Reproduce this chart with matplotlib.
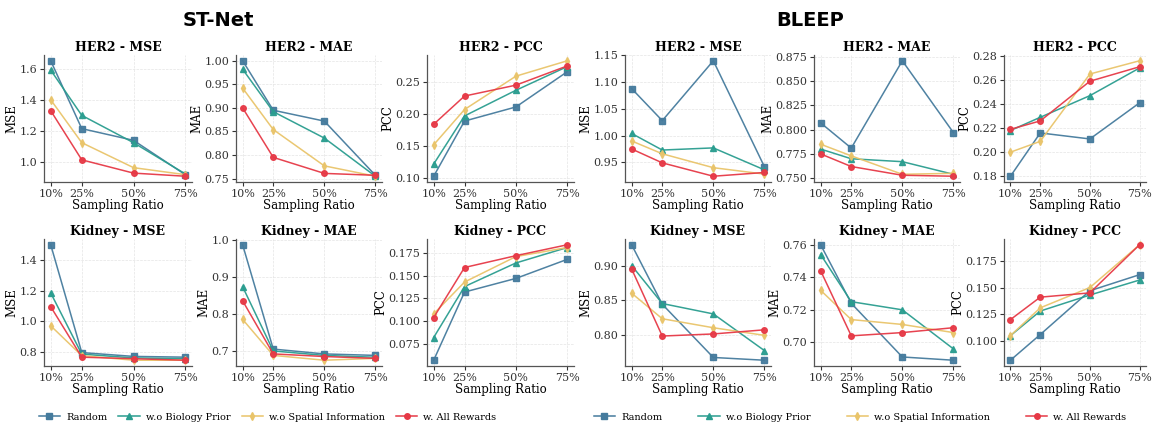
import matplotlib
matplotlib.use("Agg")
import matplotlib.pyplot as plt
from matplotlib.lines import Line2D

ratios = [10, 25, 50, 75]
tick_labels = ["10%", "25%", "50%", "75%"]
methods = ["Random", "w.o Biology Prior", "w.o Spatial Information", "w. All Rewards"]
colors = ["#457b9d", "#2a9d8f", "#e9c46a", "#e63946"]
markers = ["s", "^", "d", "o"]

# ST-Net
stnet_her2_mse = [[1.65, 1.215, 1.14, 0.92], [1.59, 1.30, 1.125, 0.925],
                  [1.40, 1.125, 0.965, 0.92], [1.33, 1.015, 0.93, 0.91]]
stnet_her2_mae = [[1.00, 0.895, 0.872, 0.757], [0.982, 0.892, 0.836, 0.755],
                  [0.942, 0.854, 0.777, 0.755], [0.900, 0.795, 0.761, 0.757]]
stnet_her2_pcc = [[0.103, 0.189, 0.211, 0.266], [0.122, 0.197, 0.237, 0.274],
                  [0.152, 0.207, 0.259, 0.283], [0.184, 0.228, 0.245, 0.275]]
stnet_kid_mse = [[1.50, 0.795, 0.77, 0.765], [1.185, 0.785, 0.76, 0.755],
                 [0.97, 0.775, 0.745, 0.745], [1.095, 0.765, 0.755, 0.745]]
stnet_kid_mae = [[0.986, 0.705, 0.692, 0.688], [0.873, 0.700, 0.688, 0.683],
                 [0.785, 0.688, 0.675, 0.680], [0.835, 0.692, 0.685, 0.680]]
stnet_kid_pcc = [[0.057, 0.132, 0.147, 0.168], [0.082, 0.138, 0.164, 0.181],
                 [0.108, 0.143, 0.171, 0.181], [0.104, 0.159, 0.172, 0.184]]
# BLEEP
bleep_her2_mse = [[1.088, 1.028, 1.140, 0.942], [1.004, 0.973, 0.977, 0.936],
                  [0.990, 0.966, 0.940, 0.928], [0.975, 0.949, 0.924, 0.931]]
bleep_her2_mae = [[0.807, 0.781, 0.871, 0.797], [0.780, 0.770, 0.767, 0.754],
                  [0.785, 0.773, 0.754, 0.755], [0.775, 0.762, 0.753, 0.752]]
bleep_her2_pcc = [[0.180, 0.216, 0.211, 0.241], [0.218, 0.229, 0.247, 0.270],
                  [0.200, 0.209, 0.265, 0.276], [0.219, 0.226, 0.259, 0.271]]
bleep_kid_mse = [[0.930, 0.844, 0.767, 0.763], [0.900, 0.845, 0.830, 0.777],
                 [0.860, 0.823, 0.810, 0.799], [0.895, 0.798, 0.801, 0.807]]
bleep_kid_mae = [[0.760, 0.724, 0.691, 0.689], [0.754, 0.725, 0.720, 0.696],
                 [0.732, 0.714, 0.711, 0.706], [0.744, 0.704, 0.706, 0.709]]
bleep_kid_pcc = [[0.082, 0.106, 0.147, 0.162], [0.105, 0.128, 0.143, 0.157],
                 [0.105, 0.131, 0.150, 0.190], [0.120, 0.141, 0.145, 0.190]]

# y ticks shown in each panel
yt_stnet_her2 = [[1.0, 1.2, 1.4, 1.6], [0.75, 0.80, 0.85, 0.90, 0.95, 1.00], [0.10, 0.15, 0.20, 0.25]]
yt_bleep_her2 = [[0.95, 1.00, 1.05, 1.10, 1.15], [0.750, 0.775, 0.800, 0.825, 0.850, 0.875],
                 [0.18, 0.20, 0.22, 0.24, 0.26, 0.28]]
yt_stnet_kid = [[0.8, 1.0, 1.2, 1.4], [0.7, 0.8, 0.9, 1.0], [0.075, 0.100, 0.125, 0.150, 0.175]]
yt_bleep_kid = [[0.80, 0.85, 0.90], [0.70, 0.72, 0.74, 0.76], [0.100, 0.125, 0.150, 0.175]]
yt_fmt = [["%.1f", "%.2f", "%.2f", "%.2f", "%.3f", "%.2f"],
          ["%.1f", "%.1f", "%.3f", "%.2f", "%.2f", "%.3f"]]

panels = [
    [(stnet_her2_mse, "HER2 - MSE", "MSE"), (stnet_her2_mae, "HER2 - MAE", "MAE"), (stnet_her2_pcc, "HER2 - PCC", "PCC"),
     (bleep_her2_mse, "HER2 - MSE", "MSE"), (bleep_her2_mae, "HER2 - MAE", "MAE"), (bleep_her2_pcc, "HER2 - PCC", "PCC")],
    [(stnet_kid_mse, "Kidney - MSE", "MSE"), (stnet_kid_mae, "Kidney - MAE", "MAE"), (stnet_kid_pcc, "Kidney - PCC", "PCC"),
     (bleep_kid_mse, "Kidney - MSE", "MSE"), (bleep_kid_mae, "Kidney - MAE", "MAE"), (bleep_kid_pcc, "Kidney - PCC", "PCC")],
]
yticks_all = [yt_stnet_her2 + yt_bleep_her2, yt_stnet_kid + yt_bleep_kid]

plt.rcParams['font.family'] = ['DejaVu Serif']
W, H = 1153, 423
fig = plt.figure(figsize=(W / 100, H / 100), dpi=100)

lefts = [44, 236, 427, 625, 814, 1004]
rights = [192, 382, 574, 771, 960, 1146]
rows = [(55, 182), (239, 366)]

for r, (top, bot) in enumerate(rows):
    for c in range(6):
        data, title, ylab = panels[r][c]
        ax = fig.add_axes([lefts[c] / W, 1 - bot / H, (rights[c] - lefts[c]) / W, (bot - top) / H])
        for vals, col, mk, lab in zip(data, colors, markers, methods):
            ax.plot(ratios, vals, color=col, marker=mk, markersize=4, linewidth=1.1, label=lab, alpha=0.95)
        ax.set_xticks(ratios)
        ax.set_xticklabels(tick_labels)
        yt = yticks_all[r][c]
        ax.set_yticks(yt)
        ax.set_yticklabels([yt_fmt[r][c] % v for v in yt])
        ax.set_title(title, fontsize=9, fontweight='bold', pad=3)
        ax.set_ylabel(ylab, fontsize=8.5, labelpad=0.5)
        ax.set_xlabel("Sampling Ratio", fontsize=8.5, labelpad=0)
        ax.tick_params(labelsize=8, length=3, width=0.8, colors='#333333', pad=2)
        ax.grid(True, linestyle='--', linewidth=0.5, color='#dddddd', alpha=0.8)
        ax.set_axisbelow(True)
        for s in ['top', 'right']:
            ax.spines[s].set_visible(False)
        for s in ['left', 'bottom']:
            ax.spines[s].set_color('#555555')
            ax.spines[s].set_linewidth(0.9)

fig.text(218 / W, 1 - 20 / H, "ST-Net", ha='center', va='center', fontsize=14,
         fontweight='bold', family='DejaVu Sans')
fig.text(810 / W, 1 - 20 / H, "BLEEP", ha='center', va='center', fontsize=14,
         fontweight='bold', family='DejaVu Sans')

handles = [Line2D([0], [0], color=col, marker=mk, markersize=4, linewidth=1.1)
           for col, mk in zip(colors, markers)]
for x0, x1 in [(30, 505), (585, 1135)]:
    fig.legend(handles, methods, loc='center', ncol=4, frameon=False, fontsize=7,
               bbox_to_anchor=(x0 / W, 1 - 426 / H, (x1 - x0) / W, 18 / H), mode='expand',
               handlelength=2.2, handletextpad=0.6)

fig.savefig("out.png", dpi=100)
